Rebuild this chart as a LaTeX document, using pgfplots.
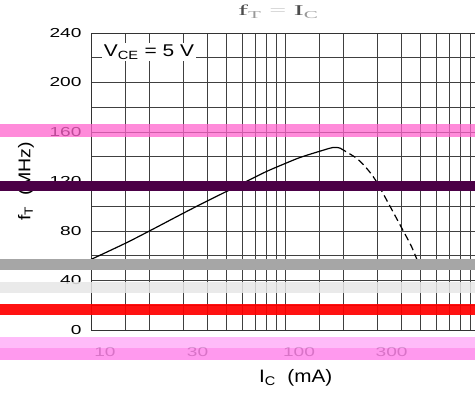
\documentclass[border=0pt]{standalone}
\usepackage{graphicx}
\usepackage{pgfplots}
\pgfplotsset{compat=1.18}
\usepackage{fontspec}
\setmainfont{Liberation Sans}
\newfontfamily\titlefont{Liberation Serif}

% the reference text is stretched sideways
\newcommand\wx[1]{\scalebox{1.47}[1]{#1}}

\definecolor{bandpink}{RGB}{255,100,205}
\definecolor{bandpurple}{RGB}{75,0,70}
\definecolor{bandgray}{RGB}{166,166,166}
\definecolor{bandlight}{RGB}{230,230,230}
\definecolor{bandlpink}{RGB}{255,175,248}
\definecolor{banddpink}{RGB}{255,135,235}

\begin{document}
\begin{tikzpicture}
\begin{axis}[
    at={(91pt,64pt)}, anchor=south west,
    scale only axis, width=384pt, height=297pt,
    xmode=log, xmin=10, xmax=953, ymin=0, ymax=240,
    clip=false,
    set layers=standard,
    font=\fontsize{13}{15}\selectfont,
    /pgf/number format/assume math mode=true,
    xtick={10,30,100,300},
    xticklabels={\wx{10},\wx{30},\wx{100},\wx{300}},
    minor xtick={15,20,40,50,60,70,80,90,150,200,400,500,600,700,800,900},
    ytick={0,40,...,240},
    yticklabel={\wx{\pgfmathprintnumber{\tick}}},
    minor ytick={20,60,...,220},
    grid=both,
    major grid style={black!75, line width=0.8pt},
    minor grid style={black!75, line width=0.8pt},
    major tick length=0pt, minor tick length=0pt,
    axis line style={black!80, line width=0.9pt},
    xticklabel style={xshift=14pt, yshift=-14pt},
    yticklabel style={xshift=-6pt},
    title={\scalebox{2.0}[1]{\titlefont\fontsize{15}{17}\selectfont\color{black!70}f\textsubscript{\color{black!40}T} {\color{black!20}=} I\textsubscript{\color{black!40}C}}},
    title style={at={(0.488,1)}, anchor=base, yshift=11pt},
    xlabel={\scalebox{1.15}[1]{\fontsize{18}{20}\selectfont I\textsubscript{C}\ \ (mA)}},
    xlabel style={at={(0.533,0)}, anchor=center, yshift=-48pt},
    ylabel={\scalebox{1.15}[1]{\fontsize{17}{19}\selectfont f\textsubscript{T}\ \ (MHz)}},
    ylabel style={at={(0,0.5)}, anchor=center, yshift=65pt},
]
% curve: solid part, then dashed part
\addplot[black, line width=1.2pt, smooth] coordinates {
    (10,57) (15,70) (20,80) (30,94.5) (40,104.5) (50,112) (65,121)
    (80,128) (100,134.5) (120,139.5) (150,144.3) (177,147.5) (192,147)
};
\addplot[black, line width=1.2pt, smooth, dash pattern=on 7pt off 4pt] coordinates {
    (192,147) (234,138.7) (264,130.5) (293,121) (334,105) (396,83.5) (450,67) (495,51)
};
\node[fill=white, inner sep=2pt] at (rel axis cs:0.151,0.936) {\scalebox{1.23}[1]{\fontsize{17}{19}\selectfont V\textsubscript{CE} = 5 V}};

% horizontal bands across the whole picture
\addplot[bandpink, draw opacity=0.75, line width=13pt, on layer=axis foreground, forget plot] coordinates {(3.4,161.25) (953,161.25)};
\addplot[bandpurple, line width=10pt, on layer=axis foreground, forget plot] coordinates {(3.4,116.35) (953,116.35)};
\addplot[bandgray, line width=11pt, on layer=axis foreground, forget plot] coordinates {(3.4,52.95) (953,52.95)};
\addplot[bandlight, draw opacity=0.85, line width=11pt, on layer=axis foreground, forget plot] coordinates {(3.4,34.35) (953,34.35)};
\addplot[red, draw opacity=0.93, line width=11pt, on layer=axis foreground, forget plot] coordinates {(3.4,16.55) (953,16.55)};
\addplot[bandlpink, draw opacity=0.85, line width=11pt, on layer=axis foreground, forget plot] coordinates {(3.4,-10.1) (953,-10.1)};
\addplot[banddpink, draw opacity=0.85, line width=12pt, on layer=axis foreground, forget plot] coordinates {(3.4,-19.35) (953,-19.35)};
\end{axis}
\pgfresetboundingbox
\useasboundingbox (0pt,0pt) rectangle (475pt,394pt);
\end{tikzpicture}
\end{document}
